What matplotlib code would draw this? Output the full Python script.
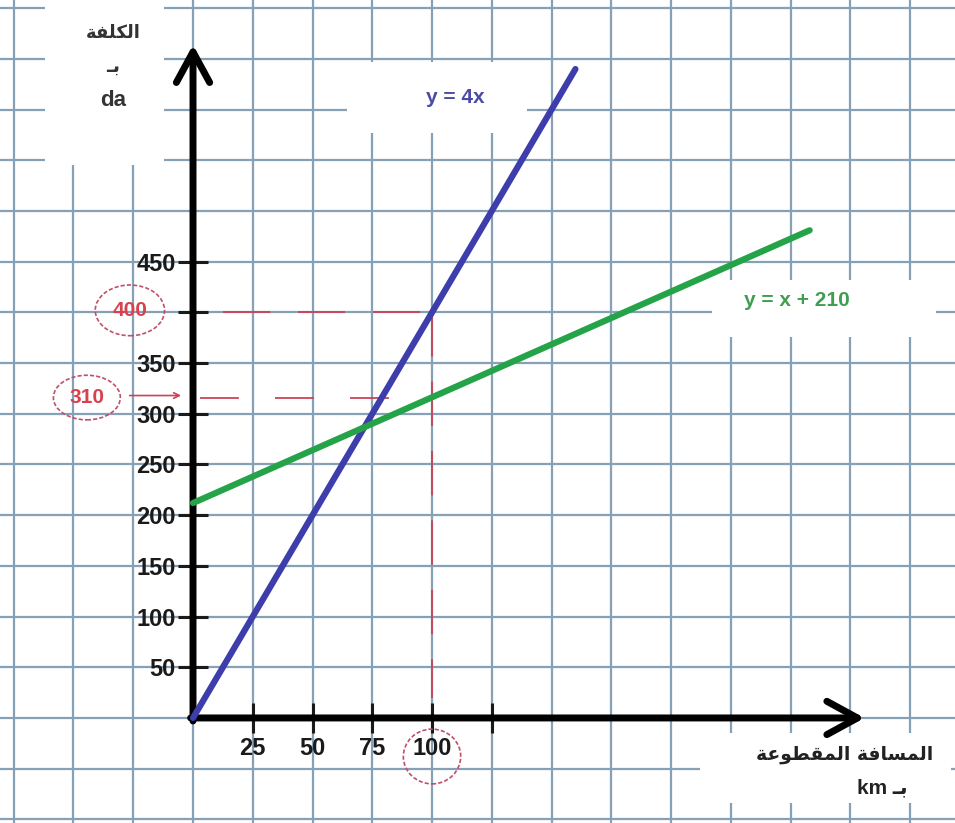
import matplotlib
matplotlib.use("Agg")
import matplotlib.pyplot as plt
from matplotlib.patches import Rectangle, Ellipse

plt.rcParams['lines.scale_dashes'] = False

# ---------------- data ----------------
blue_x = [0, 160]
blue_y = [0, 640]
green_x = [0, 258]
green_y = [212, 481]

guide_x = 100          # vertical guide at x = 100
guide_y_blue = 400     # horizontal guide to blue line
guide_y_green = 316    # horizontal guide to green line (drawn position)

y_ticks = [50, 100, 150, 200, 250, 300, 350, 400, 450]
y_tick_labels = ['50', '100', '150', '200', '250', '300', '350', '', '450']
x_ticks = [25, 50, 75, 100, 125]
x_tick_labels = ['25', '50', '75', '100', '']

grid_x = list(range(-75, 301, 25))
grid_y = list(range(-100, 701, 50))

label_blue = 'y = 4x'
label_green = 'y = x + 210'
red_labels = ['400', '310']

# Arabic text written in visual order with presentation forms
ar_cost = '\uFE94\uFED4\uFEE0\uFEDC\uFEDF\uFE8D'                      # الكلفة
ar_in = '\u0640\uFE91'                                                   # بـ
ar_dist = ('\uFE94\uFECB\uFEEE\uFEC4\uFED8\uFEE4\uFEDF\uFE8D' + ' ' +
           '\uFE94\uFED3\uFE8E\uFEB4\uFEE4\uFEDF\uFE8D')                   # المسافة المقطوعة

# ---------------- figure ----------------
W, H = 955, 823
fig = plt.figure(figsize=(W / 100, H / 100), dpi=100)
ax = fig.add_axes([0, 0, 1, 1])
ax.set_xlim(-80.75, 318.8)
ax.set_ylim(-103.6, 708.1)

grid_col = '#86a0b6'
ax.vlines(grid_x, -110, 720, color=grid_col, lw=1.6, zorder=1)
ax.hlines(grid_y, -90, 330, color=grid_col, lw=1.6, zorder=1)

# white patches behind labels (erasing the grid)
white_boxes = [(-62, 545, 50, 170), (64.4, 577, 75.3, 70), (217, 376, 94, 56), (212, -84, 105, 69)]
for bx, by, bw, bh in white_boxes:
    ax.add_patch(Rectangle((bx, by), bw, bh, facecolor='white', edgecolor='none', zorder=2))

# red dashed guides
red = '#c94456'
ax.plot([guide_x, guide_x], [guide_y_blue, 20], color=red, lw=1.3, dashes=(32, 18), zorder=3)
ax.plot([12.5, guide_x], [guide_y_blue, guide_y_blue], color=red, lw=1.3, dashes=(34, 20), zorder=3)
ax.plot([3, guide_x], [guide_y_green, guide_y_green], color=red, lw=1.3, dashes=(28, 26), zorder=3)

# axes with arrows
ax.annotate('', xy=(0, 664), xytext=(0, -3),
            arrowprops=dict(arrowstyle='->,head_length=0.55,head_width=0.3', lw=5,
                            color='black', mutation_scale=40, shrinkA=0, shrinkB=0),
            zorder=4)
ax.annotate('', xy=(281, 0), xytext=(-1, 0),
            arrowprops=dict(arrowstyle='->,head_length=0.55,head_width=0.3', lw=5,
                            color='black', mutation_scale=40, shrinkA=0, shrinkB=0),
            zorder=4)

for s in ['top', 'right']:
    ax.spines[s].set_visible(False)
ax.spines['left'].set_position(('data', 0))
ax.spines['bottom'].set_position(('data', 0))
ax.spines['left'].set_visible(False)
ax.spines['bottom'].set_visible(False)

ax.set_yticks(y_ticks)
ax.set_yticklabels(y_tick_labels, fontweight='bold', fontsize=17, family='Liberation Sans')
ax.set_xticks(x_ticks)
ax.set_xticklabels(x_tick_labels, fontweight='bold', fontsize=17, family='Liberation Sans')
ax.tick_params(axis='y', direction='inout', length=21, width=2.2, pad=2, colors='#1a1a1a')
ax.tick_params(axis='x', direction='inout', length=22, width=2.2, pad=3, colors='#1a1a1a')

# data lines
ax.plot(blue_x, blue_y, color='#3d3dab', lw=4.5, solid_capstyle='round', zorder=5)
ax.plot(green_x, green_y, color='#25a348', lw=4.5, solid_capstyle='round', zorder=5)

# line labels
ax.text(109.6, 612, label_blue, color='#4b4ba5', fontsize=15, fontweight='bold',
        family='Liberation Sans', ha='center', va='center', zorder=6)
ax.text(252.7, 412, label_green, color='#3f9e50', fontsize=15, fontweight='bold',
        family='Liberation Sans', ha='center', va='center', zorder=6)

# axis titles
ax.text(-33.5, 676, ar_cost, fontsize=13, fontweight='bold', family='DejaVu Sans',
        ha='center', va='center', color='#333333', zorder=6)
ax.text(-33.5, 643, ar_in, fontsize=14, fontweight='bold', family='DejaVu Sans',
        ha='center', va='center', color='#333333', zorder=6)
ax.text(-33.5, 609, 'da', fontsize=16, fontweight='bold', family='Liberation Sans',
        ha='center', va='center', color='#333333', zorder=6)
ax.text(272.5, -36.5, ar_dist, fontsize=13.5, fontweight='bold', family='DejaVu Sans',
        ha='center', va='center', color='#222222', zorder=6)
ax.text(288.5, -69, 'km ' + ar_in, fontsize=15, fontweight='bold',
        family=['Liberation Sans', 'DejaVu Sans'],
        ha='center', va='center', color='#222222', zorder=6)

# red circled values
red_txt = '#d9414f'
ax.text(-26.4, 402, red_labels[0], color=red_txt, fontsize=15, fontweight='bold',
        family='Liberation Sans', ha='center', va='center', zorder=6)
ax.add_patch(Ellipse((-26.4, 402), 29, 50, fill=False, edgecolor='#c0506a', lw=1.2,
                     linestyle=(0, (3, 1.5)), zorder=6))
ax.text(-44.4, 316, red_labels[1], color=red_txt, fontsize=15, fontweight='bold',
        family='Liberation Sans', ha='center', va='center', zorder=6)
ax.add_patch(Ellipse((-44.4, 316), 28, 44, fill=False, edgecolor='#c0506a', lw=1.2,
                     linestyle=(0, (3, 1.5)), zorder=6))
ax.annotate('', xy=(-5, 318), xytext=(-26.5, 318),
            arrowprops=dict(arrowstyle='->', color=red, lw=1.2, shrinkA=0, shrinkB=0),
            zorder=6)
ax.add_patch(Ellipse((100, -38), 24, 54, fill=False, edgecolor='#c0506a', lw=1.2,
                     linestyle=(0, (3, 1.5)), zorder=6))

fig.savefig('out.png', dpi=100, facecolor='white')
